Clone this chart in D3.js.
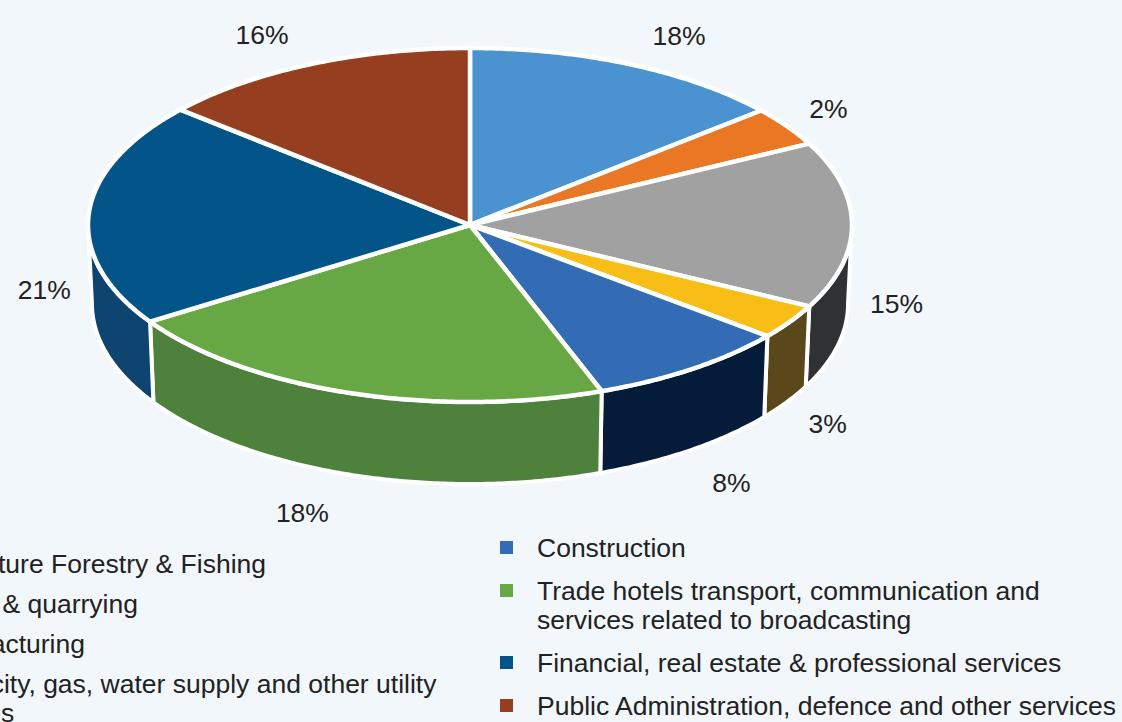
<!DOCTYPE html>
<html>
<head>
<meta charset="utf-8">
<script src="https://cdn.jsdelivr.net/npm/d3@7/dist/d3.min.js"></script>
<style>
  html, body { margin: 0; padding: 0; background: #f2f7fc; overflow: hidden; }
  svg { display: block; font-family: "Liberation Sans", Arial, sans-serif; }
</style>
</head>
<body>
<div id="chart"></div>
<script>
// Sectors, clockwise from 12 o'clock
const categories = [
  "Agriculture Forestry & Fishing",
  "Mining & quarrying",
  "Manufacturing",
  "Electricity, gas, water supply and other utility services",
  "Construction",
  "Trade hotels transport, communication and services related to broadcasting",
  "Financial, real estate & professional services",
  "Public Administration, defence and other services"
];
// slice sizes as they are drawn in the picture (share of the circle, %)
const shares = [13.8, 3.6, 15.2, 3.2, 8.6, 21.4, 20.5, 13.7];
// data labels as printed on the chart
const shareLabels = ["18%", "2%", "15%", "3%", "8%", "18%", "21%", "16%"];

const topColors  = ["#4a93d0", "#e97724", "#a1a1a1", "#f9bd17", "#336bb5", "#67a845", "#035589", "#963f20"];
const sideColors = ["#2f6a9c", "#a8561a", "#2f3132", "#5a471a", "#041b3a", "#4e823c", "#0d4470", "#6b2d17"];

const width = 1122, height = 722;

// top face ellipse and bottom rim (a bit of perspective)
const cx = 470, cy = 225, rx = 382, ry = 177;
const bcy = 304, brx = 378, bry = 180;

const topPt = a => [cx + rx * Math.sin(a), cy - ry * Math.cos(a)];
const botPt = a => [cx + brx * Math.sin(a), bcy - bry * Math.cos(a)];
const steps = (a0, a1) => {
  const n = Math.max(2, Math.ceil((a1 - a0) / 0.01));
  return d3.range(n + 1).map(i => a0 + (a1 - a0) * i / n);
};
const line = d3.line();

const svg = d3.select("#chart")
  .append("svg")
  .attr("width", width)
  .attr("height", height);

svg.append("rect")
  .attr("width", width)
  .attr("height", height)
  .attr("fill", "#f2f7fc");

const arcs = d3.pie().sort(null).value(d => d)(shares);

// Side walls - only the front half can be seen
const front = arcs
  .map((d, i) => ({ i, a0: Math.max(d.startAngle, Math.PI / 2), a1: Math.min(d.endAngle, 3 * Math.PI / 2) }))
  .filter(d => d.a1 > d.a0);

svg.append("g")
  .selectAll("path")
  .data(front)
  .join("path")
  .attr("d", d => {
    const ts = steps(d.a0, d.a1);
    const pts = ts.map(topPt).concat(ts.slice().reverse().map(botPt));
    return line(pts) + "Z";
  })
  .attr("fill", d => sideColors[d.i])
  .attr("stroke", "#fff")
  .attr("stroke-width", 4)
  .attr("stroke-linejoin", "round");

// Top face
svg.append("g")
  .selectAll("path")
  .data(arcs)
  .join("path")
  .attr("d", d => line([[cx, cy]].concat(steps(d.startAngle, d.endAngle).map(topPt))) + "Z")
  .attr("fill", (d, i) => topColors[i])
  .attr("stroke", "#fff")
  .attr("stroke-width", 4.5)
  .attr("stroke-linejoin", "round");

// Data labels, set outside the rim at the middle of each slice
const labelG = svg.append("g")
  .attr("font-size", "26.5px")
  .attr("fill", "#222");

arcs.forEach((d, i) => {
  const m = (d.startAngle + d.endAngle) / 2;
  const s = Math.sin(m), c = Math.cos(m);
  const rim = c > 0.3 ? topPt(m) : botPt(m);
  const t = labelG.append("text")
    .attr("text-anchor", "middle")
    .attr("dy", "0.35em")
    .text(shareLabels[i]);
  const w = t.node().getComputedTextLength();
  t.attr("x", rim[0] + Math.sign(s) * (w / 2 + 22))
   .attr("y", rim[1] - c * (c > 0 ? 32 : 40));
});

// Legend, two columns (left one runs off the page edge)
const legendCols = [
  { x: -83, y: 573, gap: 40, items: [0, 1, 2, 3] },
  { x: 537, y: 557, gap: 43, items: [4, 5, 6, 7] }
];
const lineH = 29;
const wrapWidth = 590;

const legend = svg.append("g")
  .attr("font-size", "26.5px")
  .attr("fill", "#222");

legendCols.forEach(col => {
  let y = col.y;
  col.items.forEach(i => {
    legend.append("rect")
      .attr("x", col.x - 37)
      .attr("y", y - 16)
      .attr("width", 13)
      .attr("height", 13)
      .attr("fill", topColors[i]);

    const text = legend.append("text").attr("x", col.x).attr("y", y);
    const words = categories[i].split(" ");
    let lineWords = [];
    let tspan = text.append("tspan").attr("x", col.x).attr("y", y);
    let nLines = 1;
    words.forEach(w => {
      lineWords.push(w);
      tspan.text(lineWords.join(" "));
      if (tspan.node().getComputedTextLength() > wrapWidth && lineWords.length > 1) {
        lineWords.pop();
        tspan.text(lineWords.join(" "));
        lineWords = [w];
        tspan = text.append("tspan")
          .attr("x", col.x)
          .attr("y", y + nLines * lineH)
          .text(w);
        nLines++;
      }
    });
    y += (nLines - 1) * lineH + col.gap;
  });
});
</script>
</body>
</html>
